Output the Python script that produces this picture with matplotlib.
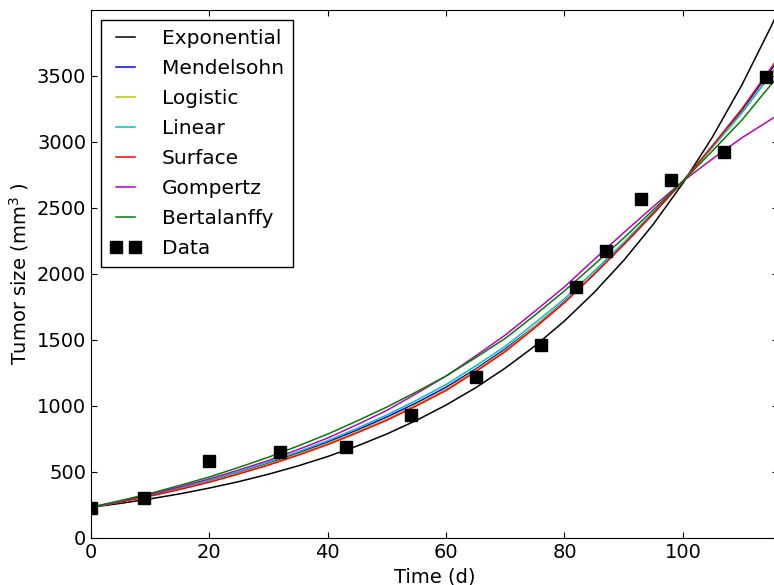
import numpy as np
import matplotlib
matplotlib.use('Agg')
import matplotlib.pyplot as plt

# measured tumour volumes
t_data = [0, 9, 20, 32, 43, 54, 65, 76, 82, 87, 93, 98, 107, 114]
v_data = [227, 303, 579, 651, 689, 932, 1217, 1460, 1902, 2172, 2564, 2710, 2924, 3488]

# model curves at these times
t_fit = [0, 5, 10, 15, 20, 25, 30, 35, 40, 45, 50, 55, 60, 65, 70, 75,
         80, 85, 90, 95, 100, 105, 110, 115, 116]
v_exponential = [230, 260, 294, 332, 376, 425, 481, 544, 615, 695, 786, 889, 1005,
                 1136, 1285, 1452, 1642, 1857, 2100, 2374, 2685, 3035, 3432, 3881, 3977]
v_mendelsohn = [230, 273, 320, 372, 430, 494, 565, 642, 725, 816, 915, 1022, 1140,
                1278, 1430, 1601, 1790, 1996, 2220, 2453, 2700, 2963, 3240, 3550, 3610]
v_logistic = [230, 272, 317, 369, 425, 489, 557, 633, 713, 804, 900, 1010, 1125,
              1269, 1420, 1599, 1785, 1998, 2220, 2456, 2700, 2957, 3220, 3512, 3570]
v_linear = [230, 274, 322, 377, 435, 501, 572, 651, 735, 829, 930, 1041, 1160,
            1301, 1450, 1626, 1810, 2019, 2235, 2465, 2700, 2958, 3220, 3520, 3580]
v_surface = [230, 271, 315, 365, 420, 483, 550, 625, 705, 795, 890, 999, 1115,
             1258, 1410, 1590, 1780, 1995, 2220, 2456, 2700, 2970, 3250, 3565, 3630]
v_gompertz = [230, 278, 328, 385, 445, 513, 585, 668, 755, 857, 965, 1092, 1225,
              1377, 1535, 1715, 1900, 2107, 2310, 2508, 2700, 2870, 3030, 3172, 3200]
v_bertalanffy = [230, 281, 335, 396, 460, 533, 610, 695, 785, 885, 990, 1105, 1225,
                 1364, 1510, 1686, 1870, 2068, 2270, 2483, 2700, 2930, 3165, 3438, 3490]

models = [
    ('Exponential', v_exponential, 'k'),
    ('Mendelsohn', v_mendelsohn, 'b'),
    ('Logistic', v_logistic, (0.75, 0.75, 0)),
    ('Linear', v_linear, (0, 0.75, 0.75)),
    ('Surface', v_surface, 'r'),
    ('Gompertz', v_gompertz, (0.75, 0, 0.75)),
    ('Bertalanffy', v_bertalanffy, (0, 0.5, 0)),
]

plt.rcParams['font.family'] = 'DejaVu Sans'
plt.rcParams['font.size'] = 14
plt.rcParams['xtick.direction'] = 'in'
plt.rcParams['ytick.direction'] = 'in'
plt.rcParams['xtick.top'] = True
plt.rcParams['ytick.right'] = True
plt.rcParams['xtick.major.size'] = 4
plt.rcParams['ytick.major.size'] = 4

fig = plt.figure(figsize=(7.74, 5.85), dpi=100)
# right spine sits just past the image edge, as in the cropped original
ax = fig.add_axes([0.1176, 0.0809, 0.887, 0.9026])

for name, vals, col in models:
    ax.plot(t_fit, vals, color=col, lw=1.1, label=name)
ax.plot(t_data, v_data, 'ks', ms=8.5, label='Data')

ax.set_xlim(0, 116)
ax.set_ylim(0, 4000)
ax.set_xticks([0, 20, 40, 60, 80, 100])
ax.set_yticks(np.arange(0, 4000, 500))
ax.set_xlabel('Time (d)')
ax.set_ylabel('Tumor size (mm$^3$ )')

leg = ax.legend(loc='upper left', numpoints=2, fancybox=False, framealpha=1,
                edgecolor='k', handlelength=1.55, handletextpad=1.0,
                labelspacing=0.55, borderpad=0.45, fontsize=14.5)
leg.get_frame().set_linewidth(1.0)

fig.savefig('out.png', dpi=100)
